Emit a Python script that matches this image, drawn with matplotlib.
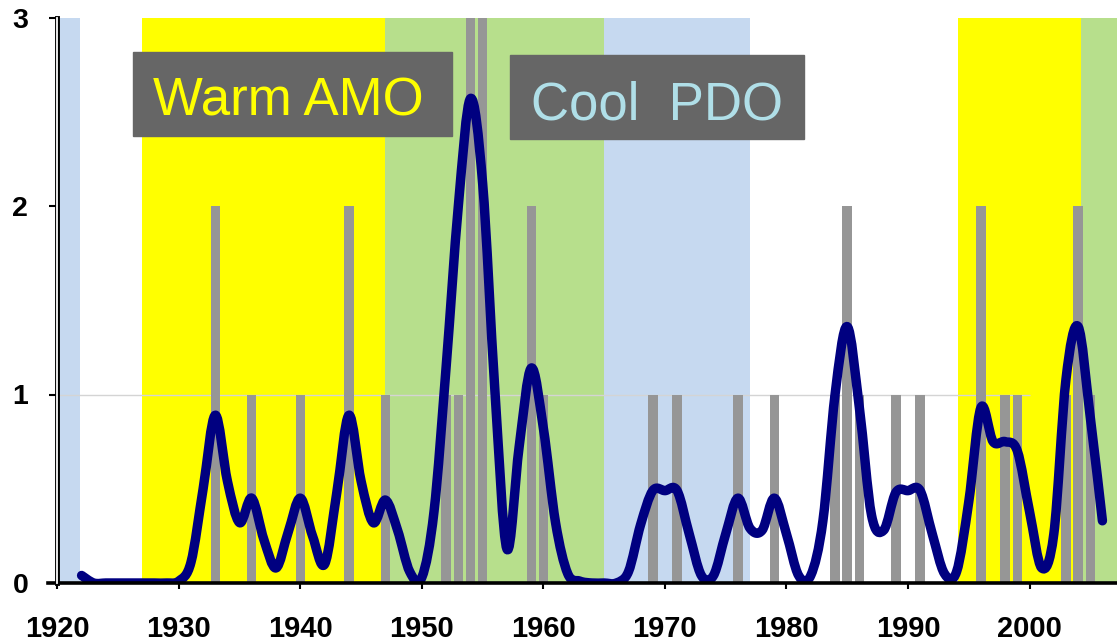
import matplotlib.pyplot as plt
from matplotlib.patches import Rectangle, PathPatch
from matplotlib.path import Path

plt.rcParams['font.family'] = ['Liberation Sans', 'DejaVu Sans']

# Smoothed curve (yearly values)
years = list(range(1922, 2007))
smooth = [0.04, 0.0, 0.0, 0.0, 0.0, 0.0, 0.0, 0.0, 0.01, 0.11,
          0.50, 0.89, 0.54, 0.32, 0.45, 0.23, 0.08, 0.27, 0.45, 0.25,
          0.10, 0.48, 0.89, 0.54, 0.32, 0.44, 0.28, 0.06, 0.03, 0.38,
          1.15, 2.00, 2.57, 2.12, 1.03, 0.18, 0.72, 1.14, 0.82, 0.32,
          0.05, 0.01, 0.0, 0.0, 0.0, 0.06, 0.31, 0.49, 0.49, 0.49,
          0.26, 0.04, 0.04, 0.26, 0.45, 0.29, 0.28, 0.45, 0.26, 0.04,
          0.04, 0.33, 1.00, 1.36, 0.93, 0.36, 0.28, 0.48, 0.49, 0.49,
          0.26, 0.05, 0.06, 0.43, 0.93, 0.75, 0.75, 0.70, 0.38, 0.08,
          0.26, 1.08, 1.36, 0.88, 0.33]

# Yearly counts (gray bars)
bar_years = [1933, 1936, 1940, 1944, 1947, 1952, 1953, 1954, 1955, 1959,
             1960, 1969, 1971, 1976, 1979, 1984, 1985, 1986, 1989, 1991,
             1996, 1998, 1999, 2003, 2004, 2005]
bar_counts = [2, 1, 1, 2, 1, 1, 1, 3, 3, 2,
              1, 1, 1, 1, 1, 1, 2, 1, 1, 1,
              2, 1, 1, 1, 2, 1]

# Background phases
band_start = [1920.05, 1927, 1947, 1965, 1994.1, 2004.2]
band_end = [1921.9, 1947, 1965, 1977, 2004.2, 2007.2]
band_color = ['#c6d9f0', '#ffff00', '#b7df8c', '#c6d9f0', '#ffff00', '#b7df8c']

xticks = [1920, 1930, 1940, 1950, 1960, 1970, 1980, 1990, 2000]
yticks = [0, 1, 2, 3]


def smooth_path(xs, ys):
    # Excel-style smoothed line: cubic Bezier through the data points
    verts = [(xs[0], ys[0])]
    codes = [Path.MOVETO]
    n = len(xs)
    for i in range(n - 1):
        x0, y0 = xs[max(i - 1, 0)], ys[max(i - 1, 0)]
        x1, y1 = xs[i], ys[i]
        x2, y2 = xs[i + 1], ys[i + 1]
        x3, y3 = xs[min(i + 2, n - 1)], ys[min(i + 2, n - 1)]
        verts += [(x1 + (x2 - x0) / 6, y1 + (y2 - y0) / 6),
                  (x2 - (x3 - x1) / 6, y2 - (y3 - y1) / 6),
                  (x2, y2)]
        codes += [Path.CURVE4] * 3
    return Path(verts, codes)


W, H = 1117, 644
fig = plt.figure(figsize=(W / 100, H / 100), dpi=100)
ax = fig.add_axes([57.3 / W, 1 - 583 / H, 1 - 57.3 / W, (583 - 17.5) / H])

for s, e, c in zip(band_start, band_end, band_color):
    ax.axvspan(s, e, color=c, lw=0, zorder=0)

ax.hlines(1, 1920, 2000, color='#d4d4d4', lw=1, zorder=1)
ax.bar(bar_years, bar_counts, width=0.78, color='#969696', zorder=2)
ax.add_patch(PathPatch(smooth_path(years, smooth), fill=False, edgecolor='#000080',
                       lw=6.8, joinstyle='round', capstyle='round', zorder=3))

ax.set_xlim(1920, 2007.2)
ax.set_ylim(0, 3)
ax.set_xticks(xticks)
ax.set_yticks(yticks)
ax.tick_params(axis='x', direction='out', length=4, width=1.5, pad=19,
               labelsize=21)
ax.tick_params(axis='y', direction='out', length=6, width=1.5, pad=15,
               labelsize=20.5)
for lab in ax.get_xticklabels() + ax.get_yticklabels():
    lab.set_fontweight('bold')

for side in ['top', 'right']:
    ax.spines[side].set_visible(False)
ax.spines['bottom'].set_visible(False)
ax.spines['left'].set_linewidth(3.5)
ax.axvline(1920, color='white', lw=1.3, clip_on=False, zorder=6)
ax.axhline(0, xmin=-0.009, xmax=1, color='black', lw=2.6, clip_on=False, zorder=5)


# Label boxes
def label_box(x0, y0, x1, y1, tx, ty, text, color):
    fig.patches.append(Rectangle((x0 / W, 1 - y1 / H), (x1 - x0) / W, (y1 - y0) / H,
                                 transform=fig.transFigure, color='#666666', zorder=10))
    fig.text(tx / W, 1 - ty / H, text, color=color, fontsize=38,
             ha='left', va='baseline', zorder=11)


label_box(133, 52, 452, 136, 153, 116, 'Warm AMO', '#ffff00')
label_box(510, 55, 804, 139, 531, 119, 'Cool  PDO', '#b0dfe8')

fig.savefig('out.png', dpi=100)
